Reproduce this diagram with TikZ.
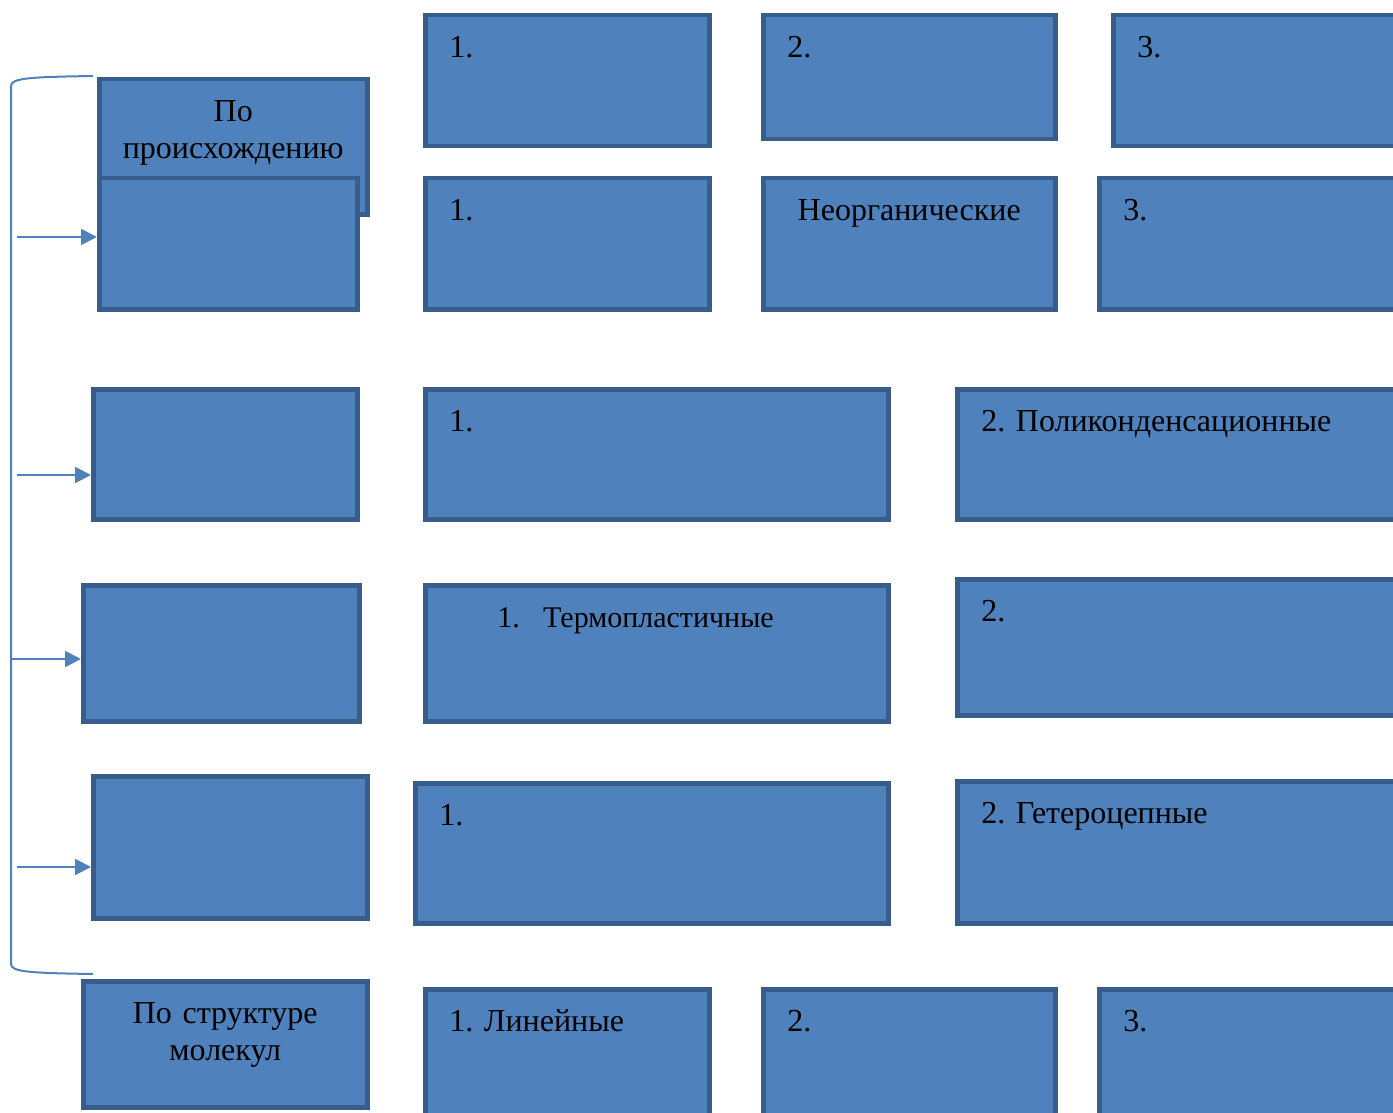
\documentclass[tikz,border=0pt]{standalone}
\usepackage{fontspec}
\setmainfont{Liberation Serif}
\usetikzlibrary{arrows.meta}
\definecolor{boxfill}{HTML}{4F81BD}
\definecolor{boxline}{HTML}{385D8A}
\frenchspacing

\begin{document}
\begin{tikzpicture}[x=1pt, y=-1pt,
    cell/.style={rectangle, draw=boxline, fill=boxfill, line width=4.5pt, anchor=north west,
        inner xsep=24pt, inner ysep=0pt, text height=42pt, align=left,
        font=\fontsize{32}{37}\selectfont},
    title/.style={cell, inner xsep=8pt, align=center},
    link/.style={draw=boxfill, line width=2pt},
    arrow/.style={link, -{Triangle[length=16pt, width=16pt]}}
]
    \clip (0,0) rectangle (1393,1113);

    % Left column
    \node[title, text width=252pt, text depth=93pt] (origin) at (97,77) {По\\происхождению};
    \node[cell, text width=210pt, text depth=89pt] (kind1) at (97,176) {};
    \node[cell, text width=216pt, text depth=88pt] (kind2) at (91,387) {};
    \node[cell, text width=228pt, text depth=94pt] (kind3) at (81,583) {};
    \node[cell, text width=226pt, text depth=100pt] (kind4) at (91,774) {};
    \node[title, text width=268pt, text depth=84pt] (structure) at (81,979) {По структуре\\молекул};

    % Row 1
    \node[cell, text width=236pt, text depth=89pt] (r1a) at (423,13) {1.};
    \node[cell, text width=244pt, text depth=82pt] (r1b) at (761,13) {2.};
    \node[cell, text width=248pt, text depth=89pt] (r1c) at (1111,13) {3.};

    % Row 2
    \node[cell, text width=236pt, text depth=89pt] (r2a) at (423,176) {1.};
    \node[cell, align=center, text width=244pt, text depth=89pt] (r2b) at (761,176) {Неорганические};
    \node[cell, text width=248pt, text depth=89pt] (r2c) at (1097,176) {3.};

    % Row 3
    \node[cell, text width=415pt, text depth=88pt] (r3a) at (423,387) {1.};
    \node[cell, text width=408pt, text depth=88pt] (r3b) at (955,387) {2. Поликонденсационные};

    % Row 4
    \node[cell, text width=415pt, text depth=94pt, font=\fontsize{30}{37}\selectfont] (r4a) at (423,583)
        {\hspace*{48pt}\makebox[46pt][l]{1.}Термопластичные};
    \node[cell, text width=408pt, text depth=94pt] (r4b) at (955,577) {2.};

    % Row 5
    \node[cell, text width=425pt, text depth=98pt] (r5a) at (413,781) {1.};
    \node[cell, text width=408pt, text depth=100pt] (r5b) at (955,779) {2. Гетероцепные};

    % Row 6
    \node[cell, text width=236pt, text depth=104pt] (r6a) at (423,987) {1. Линейные};
    \node[cell, text width=244pt, text depth=104pt] (r6b) at (761,987) {2.};
    \node[cell, text width=248pt, text depth=104pt] (r6c) at (1097,987) {3.};

    % Bracket
    \coordinate (top) at (93,76);
    \coordinate (bot) at (93,974);
    \draw[link] (top) .. controls (30,77) and (11,78) .. (11,86) -- (11,964)
        .. controls (11,972) and (30,973) .. (bot);

    % Arrows
    \coordinate (s1) at (17,237);
    \coordinate (s2) at (17,475);
    \coordinate (s3) at (11,659);
    \coordinate (s4) at (17,867);
    \draw[arrow] (s1) -- (s1 -| kind1.west);
    \draw[arrow] (s2) -- (s2 -| kind2.west);
    \draw[arrow] (s3) -- (s3 -| kind3.west);
    \draw[arrow] (s4) -- (s4 -| kind4.west);
\end{tikzpicture}
\end{document}
